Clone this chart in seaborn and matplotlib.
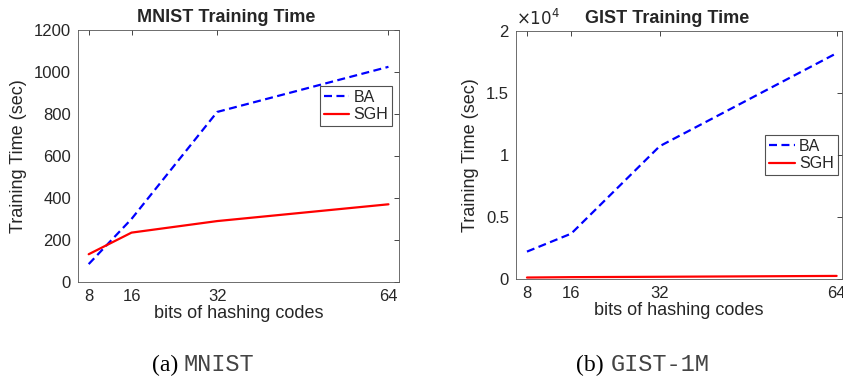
import matplotlib
matplotlib.use("Agg")
import matplotlib.pyplot as plt
import seaborn as sns
import pandas as pd
from matplotlib.ticker import FuncFormatter

bits = [8, 16, 32, 64]
mnist_ba = [85, 300, 810, 1025]
mnist_sgh = [132, 235, 290, 370]
gist_ba = [2200, 3650, 10700, 18200]
gist_sgh = [110, 140, 170, 240]

sns.set_style("white")
plt.rcParams['font.family'] = ['Liberation Sans', 'DejaVu Sans']
plt.rcParams['font.size'] = 12
plt.rcParams['axes.edgecolor'] = '#262626'
plt.rcParams['xtick.color'] = '#262626'
plt.rcParams['ytick.color'] = '#262626'
plt.rcParams['text.color'] = '#262626'

fig = plt.figure(figsize=(8.43, 3.81), dpi=100)
ax1 = fig.add_axes([0.0925, 0.260, 0.381, 0.661])
ax2 = fig.add_axes([0.612, 0.268, 0.387, 0.651])

palette = {'BA': 'blue', 'SGH': 'red'}
dashes = {'BA': (3.6, 2.0), 'SGH': ''}


def panel(ax, ba, sgh, title, anchor):
    df = pd.DataFrame({
        'bits': bits * 2,
        'time': ba + sgh,
        'method': ['BA'] * len(bits) + ['SGH'] * len(bits),
    })
    sns.lineplot(data=df, x='bits', y='time', hue='method', style='method',
                 palette=palette, dashes=dashes, linewidth=1.6, ax=ax)
    ax.set_xticks(bits)
    ax.set_xlabel('bits of hashing codes', fontsize=13, labelpad=1)
    ax.set_ylabel('Training Time (sec)', fontsize=13, labelpad=5)
    ax.set_title(title, fontsize=13, fontweight='bold', x=0.463, pad=6)
    ax.tick_params(direction='in', top=True, right=True, length=3.5, width=0.6,
                   labelsize=12, pad=5)
    for s in ax.spines.values():
        s.set_linewidth(0.6)
        s.set_color('#555555')
    leg = ax.legend(handlelength=1.6, fontsize=11.5, frameon=True, fancybox=False,
                    borderpad=0.25, labelspacing=0.15, handletextpad=0.25,
                    borderaxespad=0.0, loc='upper right',
                    bbox_to_anchor=anchor)
    leg.get_frame().set_edgecolor('#262626')
    leg.get_frame().set_linewidth(0.8)


panel(ax1, mnist_ba, mnist_sgh, 'MNIST Training Time', (0.978, 0.778))
ax1.set_xlim(6, 66)
ax1.set_ylim(0, 1200)
ax1.set_yticks(range(0, 1201, 200))

panel(ax2, gist_ba, gist_sgh, 'GIST Training Time', (0.986, 0.580))
ax2.set_xlim(6, 65)
ax2.set_ylim(0, 20000)
ax2.set_yticks([0, 5000, 10000, 15000, 20000])
ax2.yaxis.set_major_formatter(FuncFormatter(lambda v, p: '%g' % (v / 1e4)))
ax2.text(0.0, 1.01, r'$\times10^4$', transform=ax2.transAxes, fontsize=12,
         ha='left', va='bottom', color='#262626')

serif = ['Liberation Serif', 'DejaVu Serif']
mono = ['Liberation Mono', 'DejaVu Sans Mono']
fig.text(0.211, 0.026, '(a)', family=serif, fontsize=17, ha='right', va='baseline', color='black')
fig.text(0.218, 0.026, 'MNIST', family=mono, fontsize=17, ha='left', va='baseline', color='#444444')
fig.text(0.716, 0.026, '(b)', family=serif, fontsize=17, ha='right', va='baseline', color='black')
fig.text(0.724, 0.026, 'GIST-1M', family=mono, fontsize=17, ha='left', va='baseline', color='#444444')

fig.savefig('out.png', dpi=100, facecolor='white')
